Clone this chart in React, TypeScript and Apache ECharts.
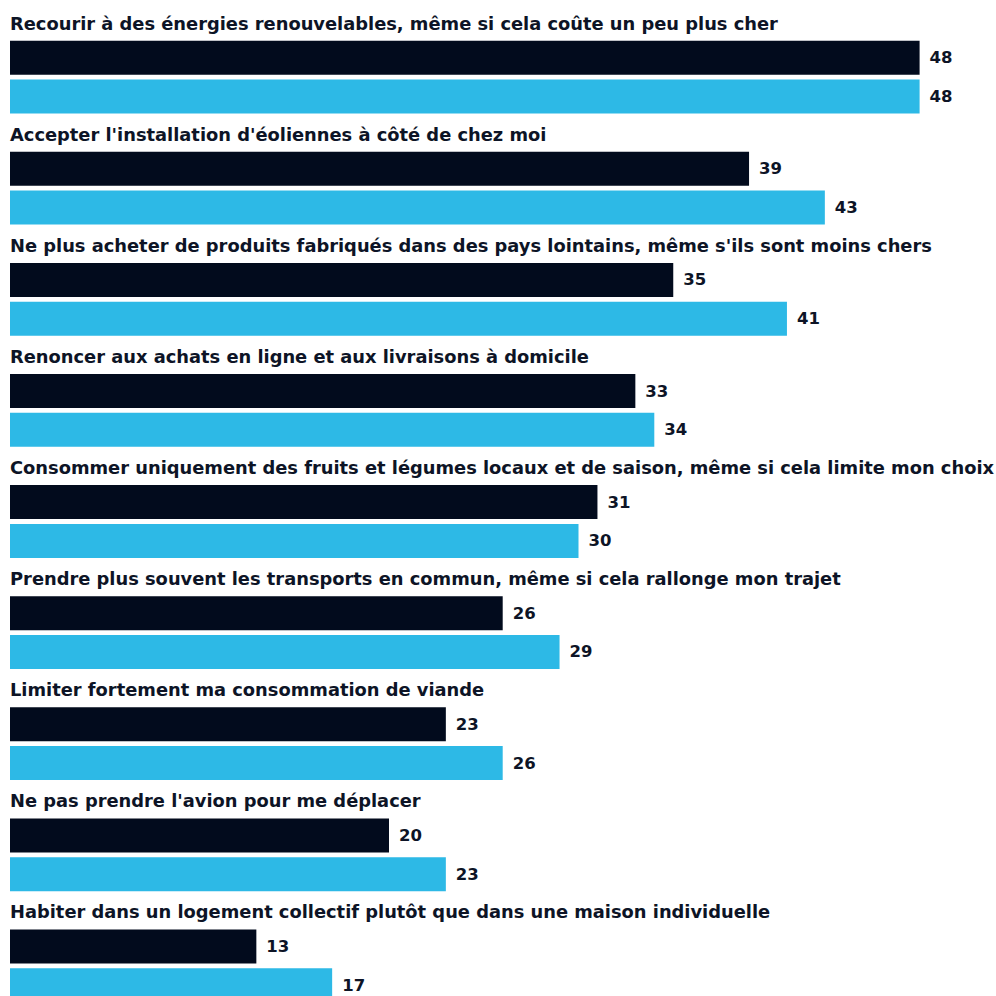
import React, { useEffect, useRef } from "react";
import * as echarts from "echarts";

const categories = [
  "Recourir à des énergies renouvelables, même si cela coûte un peu plus cher",
  "Accepter l'installation d'éoliennes à côté de chez moi",
  "Ne plus acheter de produits fabriqués dans des pays lointains, même s'ils sont moins chers",
  "Renoncer aux achats en ligne et aux livraisons à domicile",
  "Consommer uniquement des fruits et légumes locaux et de saison, même si cela limite mon choix",
  "Prendre plus souvent les transports en commun, même si cela rallonge mon trajet",
  "Limiter fortement ma consommation de viande",
  "Ne pas prendre l'avion pour me déplacer",
  "Habiter dans un logement collectif plutôt que dans une maison individuelle",
];
const darkValues = [48, 39, 35, 33, 31, 26, 23, 20, 13];
const lightValues = [48, 43, 41, 34, 30, 29, 26, 23, 17];

const FONT = "DejaVu Sans";
const DARK = "#020b1d";
const LIGHT = "#2db9e6";

export default function App() {
  const ref = useRef<HTMLDivElement>(null);
  useEffect(() => {
    const chart = echarts.init(ref.current!, undefined, { renderer: "svg" });
    const labelStyle = {
      show: true,
      position: "right" as const,
      distance: 10,
      color: "#0d1426",
      fontFamily: FONT,
      fontWeight: "bold",
      fontSize: 16.5,
    };
    chart.setOption({
      animation: false,
      grid: {
        left: 10,
        top: 21.5,
        width: 947.5,
        height: 1000,
        containLabel: false,
        outerBoundsMode: "none",
      },
      xAxis: {
        type: "value",
        min: 0,
        max: 50,
        show: false,
      },
      yAxis: {
        type: "category",
        data: categories,
        inverse: true,
        axisLine: { show: false },
        axisTick: { show: false },
        splitLine: { show: false },
        axisLabel: {
          inside: true,
          align: "left",
          verticalAlign: "bottom",
          margin: 0,
          padding: [0, 0, 44, 0],
          color: "#0d1426",
          fontFamily: FONT,
          fontWeight: "bold",
          fontSize: 17.85,
          lineHeight: 20,
        },
        z: 10,
      },
      series: [
        {
          type: "bar",
          data: darkValues,
          barWidth: 34,
          barGap: "14%",
          itemStyle: { color: DARK },
          label: labelStyle,
        },
        {
          type: "bar",
          data: lightValues,
          barWidth: 34,
          itemStyle: { color: LIGHT },
          label: labelStyle,
        },
      ],
    });
    return () => chart.dispose();
  }, []);
  return (
    <div
      ref={ref}
      style={{ position: "fixed", left: 0, top: 0, width: 996, height: 1040, background: "#fff" }}
    />
  );
}
